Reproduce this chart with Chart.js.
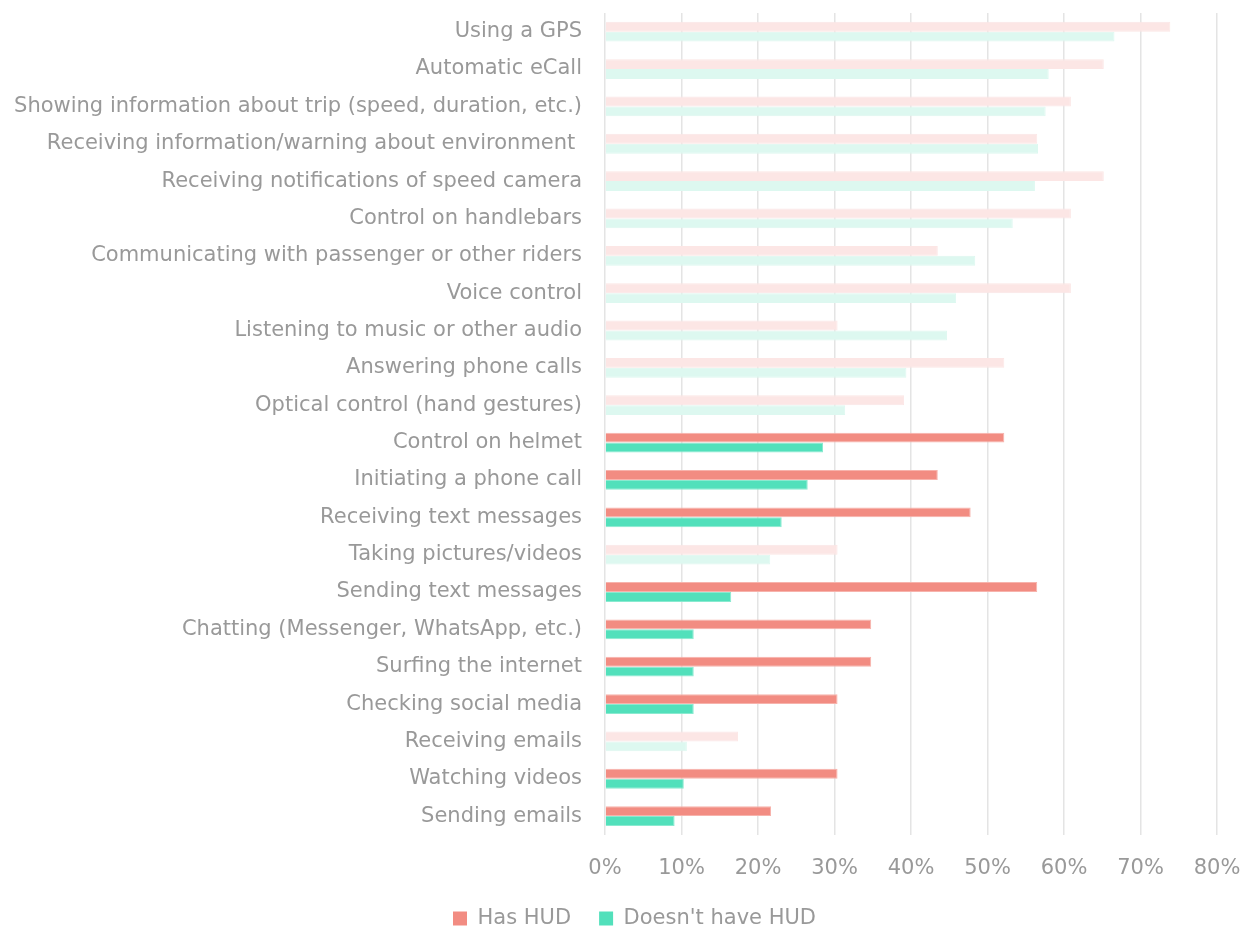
<!DOCTYPE html>
<html>
<head>
<meta charset="utf-8">
<title>HUD features</title>
<script src="https://cdn.jsdelivr.net/npm/chart.js@4.4.1/dist/chart.umd.min.js"></script>
<style>
  html, body { margin: 0; padding: 0; background: #fff; }
  #wrap { width: 1243px; height: 928px; }
</style>
</head>
<body>
<div id="wrap"><canvas id="chart"></canvas></div>
<script>
const categories = [
  'Using a GPS',
  'Automatic eCall',
  'Showing information about trip (speed, duration, etc.)',
  'Receiving information/warning about environment ',
  'Receiving notifications of speed camera',
  'Control on handlebars',
  'Communicating with passenger or other riders',
  'Voice control',
  'Listening to music or other audio',
  'Answering phone calls',
  'Optical control (hand gestures)',
  'Control on helmet',
  'Initiating a phone call',
  'Receiving text messages',
  'Taking pictures/videos',
  'Sending text messages',
  'Chatting (Messenger, WhatsApp, etc.)',
  'Surfing the internet',
  'Checking social media',
  'Receiving emails',
  'Watching videos',
  'Sending emails'
];

const hasHud = [73.9, 65.2, 60.9, 56.5, 65.2, 60.9, 43.5, 60.9, 30.4, 52.2, 39.1,
                52.2, 43.5, 47.8, 30.4, 56.5, 34.8, 34.8, 30.4, 17.4, 30.4, 21.7];
const noHud  = [66.6, 58.0, 57.6, 56.6, 56.2, 53.3, 48.4, 45.9, 44.7, 39.4, 31.4,
                28.5, 26.5, 23.1, 21.6, 16.5, 11.6, 11.6, 11.6, 10.7, 10.3, 9.1];

// rows drawn at full strength, the others are faded
const highlighted = [false, false, false, false, false, false, false, false, false, false, false,
                     true, true, true, false, true, true, true, true, false, true, true];

const xTicks = [0, 10, 20, 30, 40, 50, 60, 70, 80];

const red = '#f28c82', redFade = '#fce6e5';
const green = '#52e0bb', greenFade = '#ddf8f0';
const font = 'DejaVu Sans';

// legend padding also sets the gap between items; move the legend afterwards
const legendNudge = {
  id: 'legendNudge',
  afterLayout(chart) {
    const lg = chart.legend;
    lg.top -= 22; lg.bottom -= 22;
    lg.left += 26; lg.right += 26;
  }
};

new Chart(document.getElementById('chart'), {
  type: 'bar',
  data: {
    labels: categories,
    datasets: [{
      label: 'Has HUD',
      data: hasHud,
      backgroundColor: highlighted.map(h => h ? red : redFade),
      borderColor: highlighted.map(h => h ? '#f7b3ac' : redFade),
      borderWidth: 1,
      borderSkipped: 'start',
      barPercentage: 1,
      categoryPercentage: 0.53
    }, {
      label: "Doesn't have HUD",
      data: noHud,
      backgroundColor: highlighted.map(h => h ? green : greenFade),
      borderColor: highlighted.map(h => h ? '#8aead0' : greenFade),
      borderWidth: 1,
      borderSkipped: 'start',
      barPercentage: 1,
      categoryPercentage: 0.53
    }]
  },
  plugins: [legendNudge],
  options: {
    indexAxis: 'y',
    responsive: true,
    maintainAspectRatio: false,
    animation: false,
    layout: { padding: { top: 13, right: 26, bottom: -33, left: 0 } },
    scales: {
      x: {
        min: 0, max: 80,
        afterBuildTicks: s => { s.ticks = xTicks.map(v => ({ value: v })); },
        afterFit: s => { s.paddingRight = 0; },
        grid: { color: '#e4e4e4', lineWidth: 1.5, drawTicks: false },
        border: { display: false },
        ticks: {
          callback: v => v + '%',
          color: '#999',
          padding: 21,
          font: { family: font, size: 21 }
        }
      },
      y: {
        grid: { display: false, drawTicks: false },
        border: { display: false },
        afterFit: s => { s.width = 605; s.paddingTop = 0; s.paddingBottom = 0; },
        ticks: {
          color: '#999',
          padding: 23,
          autoSkip: false,
          font: { family: font, size: 21 }
        }
      }
    },
    plugins: {
      legend: {
        position: 'bottom',
        labels: {
          color: '#999',
          boxWidth: 14,
          boxHeight: 14,
          padding: 28,
          font: { family: font, size: 21 },
          generateLabels: chart => chart.data.datasets.map((ds, i) => ({
            text: ds.label,
            fillStyle: i === 0 ? red : green,
            strokeStyle: i === 0 ? red : green,
            lineWidth: 0,
            fontColor: '#999',
            datasetIndex: i
          }))
        }
      },
      tooltip: { enabled: false }
    }
  }
});
</script>
</body>
</html>
